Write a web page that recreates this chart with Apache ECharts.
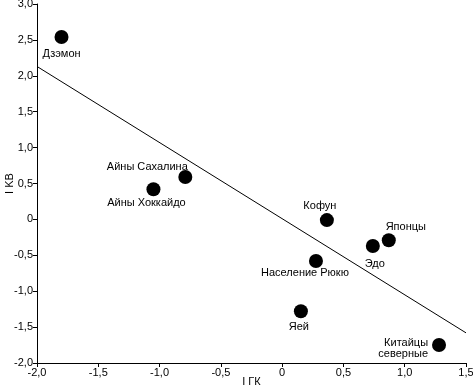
<!DOCTYPE html>
<html>
<head>
<meta charset="utf-8">
<script src="https://cdn.jsdelivr.net/npm/echarts@6/dist/echarts.min.js"></script>
<style>
  html, body { margin: 0; padding: 0; background: #fff; }
  #chart { width: 473px; height: 388px; }
</style>
</head>
<body>
<div id="chart"></div>
<script>
const names = ['Дзэмон', 'Айны Сахалина', 'Айны Хоккайдо', 'Кофун', 'Японцы', 'Эдо', 'Население Рюкю', 'Яей', 'Китайцы\nсеверные'];
const gkValues = [-1.80, -0.79, -1.05, 0.365, 0.87, 0.74, 0.276, 0.153, 1.28];
const kbValues = [2.54, 0.59, 0.42, -0.01, -0.29, -0.37, -0.58, -1.28, -1.75];
const trendX = [-2.0, 1.5];
const trendY = [2.13, -1.58];

// where each label sits relative to its point
const labelPlace = {
  'Дзэмон': { position: 'bottom', distance: 3 },
  'Айны Сахалина': { position: 'top', offset: [-38, 3], distance: 0 },
  'Айны Хоккайдо': { position: 'bottom', offset: [-7, 0], distance: 0 },
  'Кофун': { position: 'top', offset: [-7, 0], distance: 1 },
  'Японцы': { position: 'top', offset: [17, 0], distance: 0 },
  'Эдо': { position: 'bottom', offset: [2, 0], distance: 5 },
  'Население Рюкю': { position: 'bottom', offset: [-11, 0], distance: -2 },
  'Яей': { position: 'bottom', offset: [-2, 0], distance: 2 },
  'Китайцы\nсеверные': { position: 'left', offset: [0, 3], distance: 4, lineHeight: 11 }
};

const fmt = v => v === 0 ? '0' : v.toFixed(1).replace('.', ',');

const chart = echarts.init(document.getElementById('chart'));

const points = names.map((n, i) => ({
  value: [gkValues[i], kbValues[i]],
  label: Object.assign({ show: true, formatter: n }, labelPlace[n])
}));

const axisCommon = {
  axisLine: { show: true, onZero: false, lineStyle: { color: '#000', width: 1 } },
  axisTick: { show: true, inside: false, length: 4, lineStyle: { color: '#000' } },
  splitLine: { show: false },
  axisLabel: { color: '#000', fontSize: 11, fontFamily: 'Liberation Sans', formatter: fmt },
  nameTextStyle: { color: '#000', fontSize: 11, fontFamily: 'Liberation Sans' },
  nameMoveOverlap: false
};

chart.setOption({
  animation: false,
  backgroundColor: '#fff',
  grid: { left: 37, right: 7, top: 4, bottom: 25, containLabel: false, outerBoundsMode: 'none' },
  xAxis: Object.assign({}, axisCommon, {
    type: 'value', min: -2, max: 1.5, interval: 0.5,
    name: 'I ГК', nameLocation: 'middle', nameGap: 13,
    axisLabel: Object.assign({}, axisCommon.axisLabel, { margin: 4, showMaxLabel: true })
  }),
  yAxis: Object.assign({}, axisCommon, {
    type: 'value', min: -2, max: 3, interval: 0.5,
    name: 'I KB', nameLocation: 'middle', nameGap: 22, nameRotate: 90,
    axisLabel: Object.assign({}, axisCommon.axisLabel, { margin: 4 })
  }),
  series: [
    {
      type: 'line',
      data: trendX.map((x, i) => [x, trendY[i]]),
      symbol: 'none',
      lineStyle: { color: '#000', width: 1 },
      silent: true
    },
    {
      type: 'scatter',
      data: points,
      symbolSize: 14,
      itemStyle: { color: '#000', opacity: 1 },
      label: { color: '#000', fontSize: 11, fontFamily: 'Liberation Sans', lineHeight: 13 }
    }
  ]
});
</script>
</body>
</html>
